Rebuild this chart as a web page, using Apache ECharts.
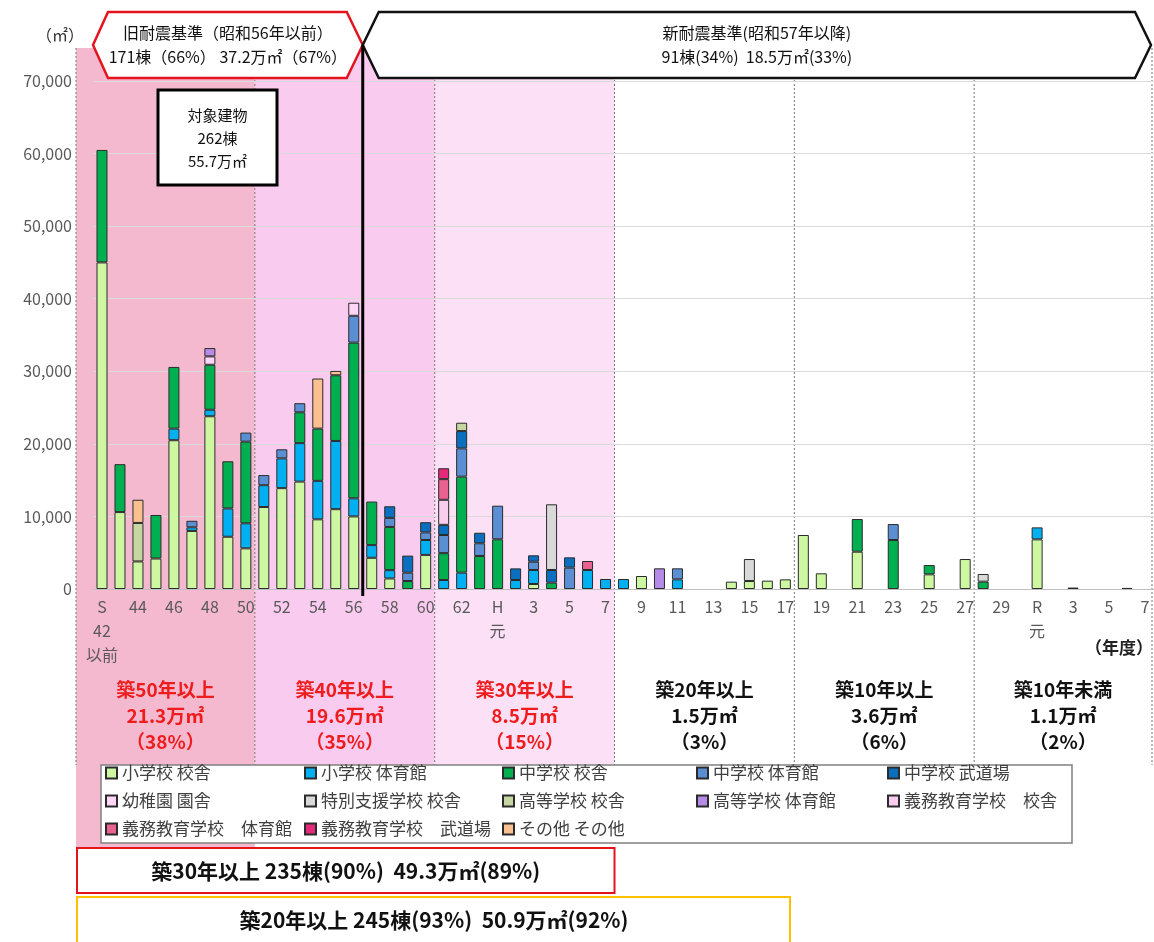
<!DOCTYPE html>
<html><head><meta charset="utf-8">
<script src="https://cdn.jsdelivr.net/npm/echarts@6/dist/echarts.min.js"></script>
<style>html,body{margin:0;padding:0;background:#fff}#c{width:1154px;height:942px}</style>
</head><body><div id="c"></div>
<script>
// ---- categories (年度) ----
const categories = ['S42以前','S43','S44','S45','S46','S47','S48','S49','S50','S51','S52','S53','S54','S55','S56','S57','S58','S59','S60','S61','S62','S63',
 'H元','H2','H3','H4','H5','H6','H7','H8','H9','H10','H11','H12','H13','H14','H15','H16','H17','H18','H19','H20','H21','H22','H23','H24','H25','H26','H27','H28','H29','H30',
 'R元','R2','R3','R4','R5','R6','R7'];

// ---- series values (㎡), keyed by category ----
const elemSchool = {S42以前:45000,S43:10600,S44:3800,S45:4200,S46:20500,S47:8000,S48:23800,S49:7200,S50:5600,S51:11300,S52:13900,S53:14800,S54:9600,S55:11000,S56:10000,S57:4300,S58:1450,S60:4700,H3:690,H9:1790,H14:1010,H15:1100,H16:1150,H17:1330,H18:7440,H19:2160,H21:5140,H25:2020,H27:4130,R元:6840};
const elemGym = {S46:1600,S47:500,S48:900,S49:3900,S50:3450,S51:3000,S52:4100,S53:5300,S54:5300,S55:9400,S56:2500,S57:1750,S58:1150,S60:2050,S61:1240,S62:2250,H2:1240,H3:1930,H6:2620,H7:1380,H8:1380,H11:1330,R元:1650};
const juniorSchool = {S42以前:15500,S43:6600,S45:6000,S46:8500,S48:6200,S49:6500,S50:11250,S53:4250,S54:7200,S55:9050,S56:21450,S57:6000,S58:5950,S59:1100,S61:3700,S62:13230,S63:4550,H元:6850,H4:870,H21:4500,H23:6750,H25:1280,H28:1010};
const juniorGym = {S47:900,S50:1250,S51:1400,S52:1250,S53:1250,S56:3700,S58:1250,S59:1150,S60:1050,S61:2500,S62:3900,S63:1750,H元:4630,H3:1140,H5:2940,H11:1520,H23:2200};
const juniorDojo = {S58:1600,S59:2350,S60:1400,S61:1400,S62:2380,S63:1450,H2:1600,H3:880,H4:1750,H5:1420};
const kinder = {S48:1150,S56:1800};
const special = {H4:9050,H15:3030,H28:1060,R3:200,R6:150};
const highSchool = {S44:5300,S62:1150};
const highGym = {S48:1150,H10:2850};
const compSchool = {S61:3450};
const compGym = {S61:2850,H6:1240};
const compDojo = {S61:1500};
const other = {S44:3200,S54:6900,S55:600};

// ---- series names & legend ----
const seriesNames = ['小学校 校舎','小学校 体育館','中学校 校舎','中学校 体育館','中学校 武道場','幼稚園 園舎','特別支援学校 校舎','高等学校 校舎','高等学校 体育館','義務教育学校　校舎','義務教育学校　体育館','義務教育学校　武道場','その他 その他'];
const seriesValues = [elemSchool,elemGym,juniorSchool,juniorGym,juniorDojo,kinder,special,highSchool,highGym,compSchool,compGym,compDojo,other];
const seriesColors = ['#cdf7a0','#00b0f0','#00b050','#5b8fd4','#0a6fbf','#ffd6f8','#d9d9d9','#c6d6a0','#b68be8','#f9cdee','#ea6390','#e6287a','#fac090'];
const legendColumns = [
  ['小学校 校舎','幼稚園 園舎','義務教育学校　体育館'],
  ['小学校 体育館','特別支援学校 校舎','義務教育学校　武道場'],
  ['中学校 校舎','高等学校 校舎','その他 その他'],
  ['中学校 体育館','高等学校 体育館'],
  ['中学校 武道場','義務教育学校　校舎']
];

// ---- y ticks ----
const yMin = 0, yMax = 70000, yStep = 10000;

// ---- annotation texts ----
const zoneLastIndex = [8,18,28,38,48,58];
const zoneFills = ['#f5b9cf','#f9cbef','#fce0f6',null,null,null];
const zoneLabels = [
  ['築50年以上','21.3万㎡','（38%）'],
  ['築40年以上','19.6万㎡','（35%）'],
  ['築30年以上','8.5万㎡','（15%）'],
  ['築20年以上','1.5万㎡','（3%）'],
  ['築10年以上','3.6万㎡','（6%）'],
  ['築10年未満','1.1万㎡','（2%）']
];
const zoneLabelColors = ['#ee1c1c','#ee1c1c','#ee1c1c','#111','#111','#111'];
const oldStdText = ['旧耐震基準（昭和56年以前）','171棟（66%） 37.2万㎡（67%）'];
const newStdText = ['新耐震基準(昭和57年以降)','91棟(34%)  18.5万㎡(33%)'];
const totalText = ['対象建物','262棟','55.7万㎡'];
const over30Text = '築30年以上 235棟(90%)  49.3万㎡(89%)';
const over20Text = '築20年以上 245棟(93%)  50.9万㎡(92%)';
const boundaryAfter = 'S56';

const FONT = "'Noto Sans CJK JP', sans-serif";

function fmtCat(c){
  if (c === 'S42以前') return 'S\n42\n以前';
  if (c.slice(1) === '元') return c[0] + '\n元';
  return c.slice(1);
}

const chart = echarts.init(document.getElementById('c'), null, {renderer:'canvas'});

const series = seriesNames.map((n,i)=>({
  name:n, type:'bar', stack:'total', barWidth:11,
  itemStyle:{color:seriesColors[i], borderColor:'#2b2b2b', borderWidth:1},
  data: categories.map(c => seriesValues[i][c] ?? null),
  z:5
}));

const legendLefts = [105,304,502,696,887];
const legends = legendColumns.map((col,i)=>({
  orient:'vertical', left:legendLefts[i], top:764, padding:0,
  itemWidth:11, itemHeight:11, itemGap:10, icon:'rect', selectedMode:false,
  textStyle:{fontSize:17, fontFamily:FONT, color:'#404040', lineHeight:18},
  data:col, z:10
}));

chart.setOption({
  animation:false,
  grid:{left:93, right:0, top:81, bottom:353},
  xAxis:{type:'category', data:categories,
    axisLine:{lineStyle:{color:'#bfbfbf'}}, axisTick:{show:false},
    axisLabel:{interval:1, color:'#595959', fontSize:16, fontFamily:FONT, margin:6, lineHeight:24, formatter:fmtCat}},
  yAxis:{type:'value', min:yMin, max:yMax, interval:yStep,
    axisLabel:{color:'#595959', fontSize:16, fontFamily:FONT, margin:21, formatter:v=>v.toLocaleString('en-US')},
    splitLine:{lineStyle:{color:'#dadada'}}, axisLine:{show:false}, axisTick:{show:false}},
  legend:legends,
  series:series
});

// ---- decorations positioned from the axes ----
const px = c => chart.convertToPixel({xAxisIndex:0}, c);
const py = v => chart.convertToPixel({yAxisIndex:0}, v);
const band = px(categories[1]) - px(categories[0]);
const edge = i => px(categories[i]) + band/2;
const y0 = py(0), yT = py(yMax);
const bgTop = yT - 33, bgLeft = 76;
const zoneBottom = 765;
const lineX = edge(categories.indexOf(boundaryAfter));

const g = [];
let prev = bgLeft;
zoneLastIndex.forEach((li,k)=>{
  const right = Math.min(edge(li), 1152);
  if (zoneFills[k]) g.push({type:'rect', z:-20, shape:{x:prev, y:bgTop, width:right-prev, height:(k===0?848:zoneBottom)-bgTop}, style:{fill:zoneFills[k]}});
  const cx = (prev+right)/2;
  zoneLabels[k].forEach((t,j)=>g.push({type:'text', z:20, x:cx, y:690+j*26,
    style:{text:t, fill:zoneLabelColors[k], font:'bold 19px '+FONT, align:'center', verticalAlign:'middle', textAlign:'center', textVerticalAlign:'middle'}}));
  prev = right;
});
if (zoneFills[0]) g.push({type:'rect', z:-20, shape:{x:bgLeft, y:765, width:30, height:83}, style:{fill:zoneFills[0]}});
// dotted zone lines
[bgLeft].concat(zoneLastIndex.map(li=>Math.min(edge(li),1152))).forEach(x=>{
  g.push({type:'line', z:-10, shape:{x1:x, y1:bgTop, x2:x, y2:zoneBottom}, style:{stroke:'#777', lineWidth:1, lineDash:[2,2]}});
});
// header hexagons
const hTop=12, hMid=45, hBot=78;
const redPts=[[93,hMid],[108,hTop],[lineX-16,hTop],[lineX,hMid],[lineX-16,hBot],[108,hBot]];
const blkPts=[[lineX,hMid],[lineX+16,hTop],[1135,hTop],[1151,hMid],[1135,hBot],[lineX+16,hBot]];
g.push({type:'polygon', z:20, shape:{points:redPts}, style:{fill:'#fff', stroke:null}});
g.push({type:'polygon', z:20, shape:{points:blkPts}, style:{fill:'#fff', stroke:null}});
g.push({type:'polygon', z:21, shape:{points:redPts}, style:{fill:null, stroke:'#e3141e', lineWidth:2.5}});
g.push({type:'polygon', z:21, shape:{points:blkPts}, style:{fill:null, stroke:'#111', lineWidth:2.5}});
const txt = (x,y,t,font,fill,z)=>({type:'text', z:z||22, x, y, style:{text:t, fill:fill||'#111', font, align:'center', verticalAlign:'middle', textAlign:'center', textVerticalAlign:'middle'}});
oldStdText.forEach((t,j)=>g.push(txt((93+lineX)/2, 33+j*24, t, '16px '+FONT)));
newStdText.forEach((t,j)=>g.push(txt((lineX+1151)/2, 33+j*24, t, '16px '+FONT)));
// thick boundary line
g.push({type:'line', z:23, shape:{x1:lineX, y1:hMid, x2:lineX, y2:y0+7}, style:{stroke:'#000', lineWidth:3}});
// unit
g.push(txt(60, 35, '（㎡）', '16px '+FONT, '#333'));
// total box
g.push({type:'rect', z:20, shape:{x:158, y:90, width:119, height:95}, style:{fill:'#fff', stroke:'#000', lineWidth:3}});
totalText.forEach((t,j)=>g.push(txt(217.5, 115+j*23, t, '15px '+FONT)));
// fiscal year label
g.push(txt(1119, 648, '（年度）', 'bold 17px '+FONT, '#222'));
// legend frame
g.push({type:'rect', z:3, shape:{x:101, y:765, width:971, height:78}, style:{fill:'#fff', stroke:'#808080', lineWidth:1.5}});
// bottom boxes
const r30 = edge(zoneLastIndex[2]);
g.push({type:'rect', z:20, shape:{x:77, y:848, width:r30-77, height:45}, style:{fill:'#fff', stroke:'#e5141c', lineWidth:2}});
g.push(txt((77+r30)/2, 871, over30Text, 'bold 21px '+FONT));
g.push({type:'rect', z:20, shape:{x:77, y:897, width:713, height:50}, style:{fill:'#fff', stroke:'#ffc000', lineWidth:2}});
g.push(txt(434, 920, over20Text, 'bold 21px '+FONT));

chart.setOption({graphic:{elements:g}});
</script>
</body></html>
